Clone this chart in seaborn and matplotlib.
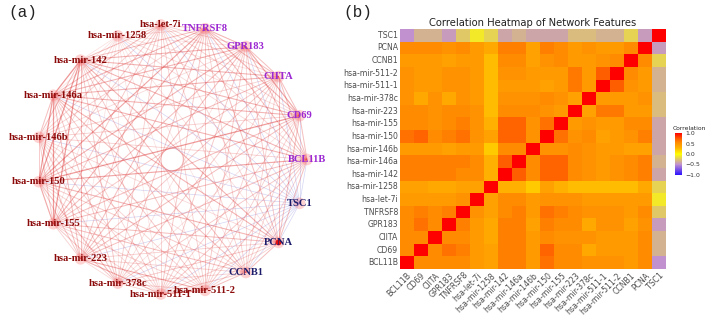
import numpy as np
import pandas as pd
import matplotlib
matplotlib.use("Agg")
import matplotlib.pyplot as plt
import seaborn as sns
from matplotlib.colors import LinearSegmentedColormap

# ---------------- data ----------------
features = ["BCL11B", "CD69", "CIITA", "GPR183", "TNFRSF8", "hsa-let-7i", "hsa-mir-1258",
            "hsa-mir-142", "hsa-mir-146a", "hsa-mir-146b", "hsa-mir-150", "hsa-mir-155",
            "hsa-mir-223", "hsa-mir-378c", "hsa-mir-511-1", "hsa-mir-511-2", "CCNB1", "PCNA", "TSC1"]
node_group = ["immune", "immune", "immune", "immune", "immune", "mirna", "mirna",
              "mirna", "mirna", "mirna", "mirna", "mirna",
              "mirna", "mirna", "mirna", "mirna", "cell", "cell", "cell"]

corr_rows = [
    [1, .55, .55, .55, .55, .45, .40, .60, .60, .45, .65, .55, .55, .50, .50, .50, .45, .55, -.50],
    [.55, 1, .55, .65, .60, .45, .40, .60, .60, .45, .70, .55, .55, .35, .45, .45, .45, .55, -.35],
    [.55, .55, 1, .55, .55, .45, .35, .60, .60, .45, .55, .50, .50, .50, .45, .45, .45, .55, -.35],
    [.55, .65, .55, 1, .60, .45, .35, .60, .60, .40, .60, .55, .55, .35, .50, .50, .40, .50, -.45],
    [.55, .60, .55, .60, 1, .50, .40, .55, .60, .45, .65, .60, .55, .50, .50, .50, .45, .55, -.25],
    [.45, .45, .45, .45, .50, 1, .40, .55, .55, .45, .50, .50, .50, .45, .45, .45, .45, .45, -.10],
    [.40, .40, .35, .35, .40, .40, 1, .30, .30, .20, .40, .30, .25, .25, .25, .25, .25, .35, -.20],
    [.60, .60, .60, .60, .55, .55, .30, 1, .72, .55, .70, .70, .55, .50, .45, .50, .55, .60, -.40],
    [.60, .60, .60, .60, .60, .55, .30, .72, 1, .55, .70, .70, .55, .50, .45, .50, .55, .60, -.35],
    [.45, .45, .45, .40, .45, .45, .20, .55, .55, 1, .50, .50, .55, .50, .45, .45, .40, .40, -.40],
    [.65, .70, .55, .60, .65, .50, .40, .70, .70, .50, 1, .65, .50, .55, .40, .45, .50, .60, -.40],
    [.55, .55, .50, .55, .60, .50, .30, .70, .70, .50, .65, 1, .45, .50, .45, .45, .55, .55, -.40],
    [.55, .55, .50, .55, .55, .50, .25, .55, .55, .55, .50, .45, 1, .40, .62, .62, .45, .45, -.30],
    [.50, .35, .50, .35, .50, .45, .25, .50, .50, .50, .55, .50, .40, 1, .45, .45, .45, .50, -.30],
    [.50, .45, .45, .50, .50, .45, .25, .45, .45, .45, .40, .45, .62, .45, 1, .72, .50, .45, -.35],
    [.50, .45, .45, .50, .50, .45, .25, .50, .50, .45, .45, .45, .62, .45, .72, 1, .55, .45, -.35],
    [.45, .45, .45, .40, .45, .45, .25, .55, .55, .40, .50, .55, .45, .45, .50, .55, 1, .55, -.20],
    [.55, .55, .55, .50, .55, .45, .35, .60, .60, .40, .60, .55, .45, .50, .45, .45, .55, 1, -.45],
    [-.50, -.35, -.35, -.45, -.25, -.10, -.20, -.40, -.35, -.40, -.40, -.40, -.30, -.30, -.35, -.35, -.20, -.45, 1],
]
colorbar_ticks = [1.0, 0.5, 0.0, -0.5, -1.0]

corr = pd.DataFrame(np.array(corr_rows, dtype=float), index=features, columns=features)

# ---------------- figure ----------------
W, H = 708, 318
fig = plt.figure(figsize=(W / 100, H / 100), dpi=100)
sns.set_style("white")

# ---------- panel (a): network ----------
axn = fig.add_axes([0, 0, 354 / W, 1])
axn.set_xlim(0, 354)
axn.set_ylim(H, 0)
axn.axis("off")

cx, cy, r = 172.0, 159.5, 135.0
n = len(features)
ang = np.deg2rad(np.arange(n) * 360.0 / n)
px = cx + r * np.cos(ang)
py = cy - r * np.sin(ang)

edges = []
for i in range(n):
    for j in range(i + 1, n):
        edges.append((abs(corr.iat[i, j]), i, j, corr.iat[i, j]))
edges.sort()
for a, i, j, v in edges:
    if v >= 0:
        col = (0.86, 0.12, 0.12)
        alpha = min(1.0, 0.14 + 1.3 * max(a - 0.3, 0) ** 1.6)
        lw = 0.45 + 0.9 * a ** 2
    else:
        col = (0.45, 0.45, 0.85)
        alpha = 0.3
        lw = 0.5
    axn.plot([px[i], px[j]], [py[i], py[j]], color=col, alpha=alpha, lw=lw,
             solid_capstyle="butt", zorder=1)

axn.scatter(px, py, s=70, color="#ff8080", alpha=0.35, edgecolors="none", zorder=2)
axn.scatter(px[17:18], py[17:18], s=18, color="#e01010", edgecolors="none", zorder=3)

label_colors = {"immune": "#9b28d2", "mirna": "#8b0a0a", "cell": "#1c1c6b"}
for k, name in enumerate(features):
    axn.text(px[k], py[k], name, ha="center", va="center", fontsize=7.6,
             fontweight="bold", family="Liberation Serif",
             color=label_colors[node_group[k]], zorder=4)

fig.text(8 / W, 1 - 13 / H, "(a)", family="Liberation Mono", fontsize=11.5,
         ha="left", va="center", color="#222222")
fig.text(343 / W, 1 - 13 / H, "(b)", family="Liberation Mono", fontsize=11.5,
         ha="left", va="center", color="#222222")

# ---------- panel (b): heatmap ----------
cmap = LinearSegmentedColormap.from_list(
    "corr", [(0.0, "#2a10ff"), (0.25, "#c090d0"), (0.5, "#ffff00"),
             (0.65, "#ffb000"), (0.78, "#ff8a00"), (0.88, "#ff5500"), (1.0, "#ff0000")])

axh = fig.add_axes([400 / W, 1 - 269 / H, 266 / W, 240 / H])
axc = fig.add_axes([675 / W, 1 - 175 / H, 7 / W, 42 / H])
hm_data = corr.iloc[::-1, :]
sns.heatmap(hm_data, ax=axh, cmap=cmap, vmin=-1, vmax=1, cbar=True, cbar_ax=axc,
            square=False, linewidths=0, xticklabels=True, yticklabels=True)
axh.set_xlabel("")
axh.set_ylabel("")
axh.tick_params(axis="both", length=0, pad=1.5)
axh.set_xticklabels(axh.get_xticklabels(), rotation=45, ha="right",
                    rotation_mode="anchor", fontsize=5.6, color="#4d4d4d",
                    family="DejaVu Sans")
axh.set_yticklabels(axh.get_yticklabels(), rotation=0, fontsize=5.6,
                    color="#4d4d4d", family="DejaVu Sans")
axh.set_title("Correlation Heatmap of Network Features", fontsize=7.2, pad=2.5,
              color="#222222")

axc.set_yticks(colorbar_ticks)
axc.set_yticklabels([f"{t:.1f}".replace("-", "\u2212") for t in colorbar_ticks],
                    fontsize=4.4, color="#333333")
axc.tick_params(length=1.5, width=0.4, pad=1, colors="#ffffff", labelcolor="#333333")
for s in axc.spines.values():
    s.set_visible(False)
fig.text(673 / W, 1 - 128 / H, "Correlation", fontsize=4.3, ha="left", va="center",
         color="#222222")

fig.savefig("out.png", dpi=100)
